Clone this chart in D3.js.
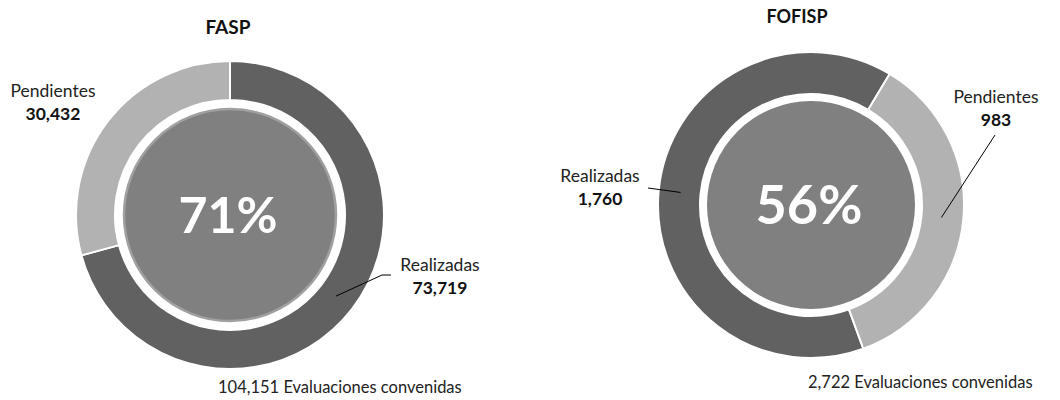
<!DOCTYPE html>
<html>
<head>
<meta charset="utf-8">
<script src="https://cdn.jsdelivr.net/npm/d3@7"></script>
<style>
  html, body { margin: 0; padding: 0; background: #ffffff; }
  svg { display: block; font-family: Lato, "Noto Sans", sans-serif; }
</style>
</head>
<body>
<svg id="chart" width="1060" height="400"></svg>
<script>
// ---- data ----
const categories = ["Realizadas", "Pendientes"];
const faspValues = [73719, 30432];
const fofispValues = [1760, 983];
const chartTitles = ["FASP", "FOFISP"];
const centerLabels = ["71%", "56%"];
const totalLabels = ["104,151 Evaluaciones convenidas", "2,722 Evaluaciones convenidas"];
const faspValueLabels = ["73,719", "30,432"];
const fofispValueLabels = ["1,760", "983"];

const colors = d3.scaleOrdinal().domain(categories).range(["#616161", "#b2b2b2"]);

const svg = d3.select("#chart");

const charts = [
  {
    title: chartTitles[0], values: faspValues, valueLabels: faspValueLabels,
    center: centerLabels[0], total: totalLabels[0],
    cx: 230, cy: 215, R: 154, r: 115, disc: 106, rim: true,
    start: 0, pctSize: 50, pctDy: 18, titleSize: 19,
    titlePos: [228, 34],
    labels: [ {x: 440, y: 271, line: [[391, 275], [382, 275]]},
              {x: 53, y: 97, line: null} ],
    totalPos: [218, 393]
  },
  {
    title: chartTitles[1], values: fofispValues, valueLabels: fofispValueLabels,
    center: centerLabels[1], total: totalLabels[1],
    cx: 811, cy: 205, R: 153, r: 111, disc: 104, rim: false,
    start: 160, pctSize: 54, pctDy: 19, titleSize: 18,
    titlePos: [797, 23],
    labels: [ {x: 600, y: 182, line: [[648, 188]]},
              {x: 996, y: 103, line: [[995, 135]]} ],
    totalPos: [808, 388]
  }
];

charts.forEach(c => {
  const g = svg.append("g").attr("transform", `translate(${c.cx},${c.cy})`);
  const a0 = c.start * Math.PI / 180;
  const pie = d3.pie().sort(null).startAngle(a0).endAngle(a0 + 2 * Math.PI);
  const arcs = pie(c.values);
  const arc = d3.arc().innerRadius(c.r).outerRadius(c.R);
  const mid = d3.arc().innerRadius((c.r + c.R) / 2 - 1).outerRadius((c.r + c.R) / 2 - 1);

  g.selectAll("path.slice").data(arcs).join("path")
    .attr("class", "slice")
    .attr("d", arc)
    .attr("fill", (d, i) => colors(categories[i]))
    .attr("stroke", "#ffffff")
    .attr("stroke-width", 2);

  // centre disc
  g.append("circle").attr("r", c.disc)
    .attr("fill", "#808080")
    .attr("stroke", c.rim ? "#a0a0a0" : "none")
    .attr("stroke-width", c.rim ? 2.5 : 0);

  g.append("text")
    .attr("x", -2).attr("y", c.pctDy)
    .attr("text-anchor", "middle")
    .attr("fill", "#ffffff")
    .attr("font-size", c.pctSize)
    .attr("font-weight", 700)
    .text(c.center);

  // title
  svg.append("text")
    .attr("x", c.titlePos[0]).attr("y", c.titlePos[1])
    .attr("text-anchor", "middle")
    .attr("font-size", c.titleSize)
    .attr("font-weight", 700)
    .attr("fill", "#111")
    .text(c.title);

  // labels + leaders
  arcs.forEach((d, i) => {
    const L = c.labels[i];
    svg.append("text")
      .attr("x", L.x).attr("y", L.y)
      .attr("text-anchor", "middle")
      .attr("font-size", 17.5)
      .attr("fill", "#222")
      .text(categories[i]);
    svg.append("text")
      .attr("x", L.x).attr("y", L.y + 23)
      .attr("text-anchor", "middle")
      .attr("font-size", 17.5)
      .attr("font-weight", 700)
      .attr("fill", "#111")
      .text(c.valueLabels[i]);
    if (L.line) {
      const p = mid.centroid(d);
      const pts = L.line.concat([[c.cx + p[0], c.cy + p[1]]]);
      svg.append("path")
        .attr("d", d3.line()(pts))
        .attr("fill", "none")
        .attr("stroke", "#000")
        .attr("stroke-width", 1);
    }
  });

  svg.append("text")
    .attr("x", c.totalPos[0]).attr("y", c.totalPos[1])
    .attr("font-size", 16.5)
    .attr("fill", "#222")
    .text(c.total);
});
</script>
</body>
</html>
